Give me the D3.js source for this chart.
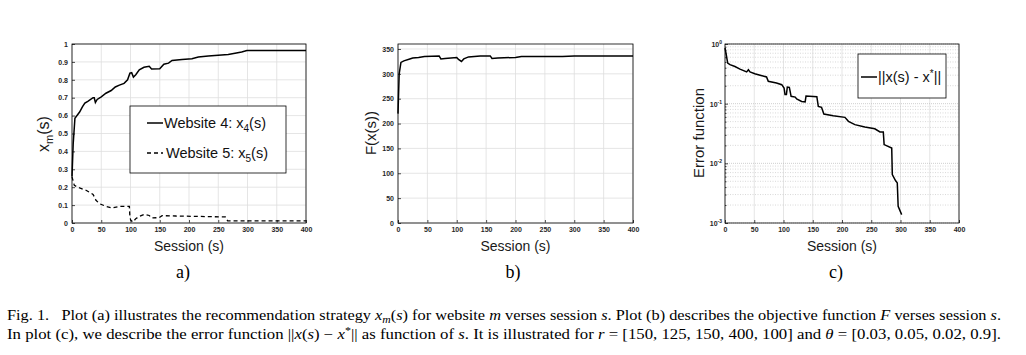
<!DOCTYPE html>
<html>
<head>
<meta charset="utf-8">
<script src="https://cdn.jsdelivr.net/npm/d3@7"></script>
<style>
  body { margin: 0; background: #fff; }
  svg { display: block; }
</style>
</head>
<body>
<svg id="fig" width="1026" height="355"></svg>
<script>
// ---- data ----
const sessionTicks = [0, 50, 100, 150, 200, 250, 300, 350, 400];
const strategyTicks = [0, 0.1, 0.2, 0.3, 0.4, 0.5, 0.6, 0.7, 0.8, 0.9, 1];
const objectiveTicks = [0, 50, 100, 150, 200, 250, 300, 350];
const errorDecades = [1e-3, 1e-2, 1e-1, 1];

// plot (a): website 4, [session, x_4(s)]
const website4 = [[0,0.26],[2,0.44],[5,0.585],[13,0.62],[18,0.65],[22,0.67],[27,0.68],[36,0.70],[38,0.70],
  [40,0.673],[43,0.69],[50,0.705],[58,0.725],[67,0.74],[74,0.76],[81,0.77],[89,0.78],[95,0.80],[99,0.837],
  [102,0.84],[105,0.815],[109,0.828],[115,0.856],[123,0.87],[132,0.875],[136,0.86],[150,0.862],[157,0.887],
  [165,0.893],[171,0.908],[188,0.914],[205,0.918],[216,0.927],[233,0.933],[250,0.937],[267,0.942],[281,0.95],
  [290,0.955],[299,0.963],[400,0.963]];
// plot (a): website 5, [session, x_5(s)]
const website5 = [[0,0.258],[4,0.21],[13,0.196],[24,0.183],[36,0.16],[41,0.127],[47,0.108],[58,0.093],
  [69,0.084],[81,0.093],[98,0.093],[99,0.034],[100.5,0.015],[104.5,0.006],[109,0.024],[115,0.037],
  [123,0.048],[132,0.042],[136,0.028],[149,0.03],[154,0.041],[177,0.039],[211,0.037],[262,0.034],
  [266,0.012],[400,0.012]];
// plot (b): objective F(x(s))
const objective = [[0,220],[2,300],[5,323],[10,326],[20,330],[25,332],[35,333],[45,335],[70,336],[73,330],
  [80,331],[100,333],[103,329],[108,325],[112,330],[120,334],[140,336],[157,336],[160,331],[170,332],
  [200,333],[210,335],[260,335],[280,335],[300,336],[400,336]];
// plot (c): error ||x(s) - x*||
const errorNorm = [[0,0.857],[1.7,0.706],[4.6,0.48],[8.5,0.45],[17,0.42],[25.6,0.38],[37,0.34],[40,0.37],
  [42.7,0.34],[51,0.318],[60,0.30],[71,0.28],[74,0.237],[88,0.222],[97,0.208],[101,0.183],[102.6,0.142],
  [105,0.142],[106.5,0.19],[110,0.188],[113,0.133],[120,0.129],[122.5,0.12],[131,0.109],[137,0.107],
  [138.5,0.134],[157,0.131],[159.5,0.09],[165,0.087],[169,0.067],[185,0.063],[205,0.059],[211,0.0506],
  [222,0.0445],[239,0.0407],[256,0.038],[265,0.0335],[270.6,0.0335],[272,0.0206],[285,0.018],[286,0.00646],
  [291.7,0.0051],[294.5,0.0047],[296,0.0019],[302,0.00138]];

const svg = d3.select("#fig");
svg.append("rect").attr("width", 1026).attr("height", 355).attr("fill", "#fff");

const SANS = "Arial, 'Liberation Sans', Helvetica, sans-serif";
const SERIF = "'Liberation Serif', 'Times New Roman', Times, serif";

// text with sub/superscripts and italics, built from parts
function rich(sel, parts) {
  let shift = 0;
  parts.forEach(p => {
    const target = p.sub ? p.sub : (p.sup ? -p.sup : 0);
    const ts = sel.append("tspan").text(p.t);
    if (target !== shift) ts.attr("dy", target - shift);
    if (p.i) ts.style("font-style", "italic");
    if (p.size) ts.style("font-size", p.size + "px");
    shift = target;
  });
  return sel;
}

function styleTicks(g) {
  g.select(".domain").remove();
  g.selectAll("line").attr("stroke", "#000").attr("stroke-width", 0.7);
  g.selectAll("text")
    .style("font-family", SANS)
    .style("font-size", "7px")
    .style("font-weight", "bold")
    .attr("fill", "#262626");
}

function panel(left, right, y, xTicks) {
  const top = 44, bottom = 223;
  const x = d3.scaleLinear().domain([0, 400]).range([left, right]);
  const g = svg.append("g");
  // vertical grid
  g.append("g").selectAll("line").data(xTicks).enter().append("line")
    .attr("x1", d => x(d)).attr("x2", d => x(d))
    .attr("y1", top).attr("y2", bottom)
    .attr("stroke", "#dedede").attr("stroke-width", 0.8);
  const ax = g.append("g")
    .attr("transform", `translate(0,${bottom})`)
    .call(d3.axisBottom(x).tickValues(xTicks).tickSizeInner(-3).tickSizeOuter(0).tickPadding(4));
  styleTicks(ax);
  return { g, x, top, bottom, left, right };
}

function frame(p) {
  p.g.append("rect")
    .attr("x", p.left).attr("y", p.top)
    .attr("width", p.right - p.left).attr("height", p.bottom - p.top)
    .attr("fill", "none").attr("stroke", "#000").attr("stroke-width", 0.8);
}

function sessionLabel(p, sub, subX) {
  svg.append("text")
    .attr("x", (p.left + p.right) / 2).attr("y", 251)
    .attr("text-anchor", "middle")
    .style("font-family", SANS).style("font-size", "14px").attr("fill", "#1a1a1a")
    .text("Session (s)");
  svg.append("text")
    .attr("x", subX).attr("y", 278)
    .attr("text-anchor", "middle")
    .style("font-family", SERIF).style("font-size", "18px")
    .text(sub);
}

// ============ (a) recommendation strategy ============
const yA = d3.scaleLinear().domain([0, 1]).range([223, 44]);
const pA = panel(72, 306, yA, sessionTicks);
pA.g.append("g").selectAll("line").data(strategyTicks).enter().append("line")
  .attr("x1", pA.left).attr("x2", pA.right)
  .attr("y1", d => yA(d)).attr("y2", d => yA(d))
  .attr("stroke", "#dedede").attr("stroke-width", 0.8);
const ayA = pA.g.append("g")
  .attr("transform", `translate(${pA.left},0)`)
  .call(d3.axisLeft(yA).tickValues(strategyTicks).tickFormat(d => String(d))
    .tickSizeInner(-3).tickSizeOuter(0).tickPadding(4));
styleTicks(ayA);

const lineA = d3.line().x(d => pA.x(d[0])).y(d => yA(d[1]));
pA.g.append("path").datum(website4).attr("d", lineA)
  .attr("fill", "none").attr("stroke", "#000").attr("stroke-width", 1.5);
pA.g.append("path").datum(website5).attr("d", lineA)
  .attr("fill", "none").attr("stroke", "#000").attr("stroke-width", 1.3)
  .attr("stroke-dasharray", "4,3");
frame(pA);

// legend (a)
const legA = svg.append("g");
legA.append("rect").attr("x", 130).attr("y", 106).attr("width", 156).attr("height", 67)
  .attr("fill", "#fff").attr("stroke", "#000").attr("stroke-width", 0.8);
legA.append("line").attr("x1", 147).attr("x2", 163).attr("y1", 123).attr("y2", 123)
  .attr("stroke", "#000").attr("stroke-width", 1.5);
legA.append("line").attr("x1", 147).attr("x2", 163).attr("y1", 153).attr("y2", 153)
  .attr("stroke", "#000").attr("stroke-width", 1.3).attr("stroke-dasharray", "4,3");
rich(legA.append("text").attr("x", 164).attr("y", 128)
  .style("font-family", SANS).style("font-size", "14.5px").attr("fill", "#111"),
  [{ t: "Website 4: x" }, { t: "4", sub: 4, size: 10 }, { t: "(s)" }]);
rich(legA.append("text").attr("x", 166).attr("y", 158)
  .style("font-family", SANS).style("font-size", "14.5px").attr("fill", "#111"),
  [{ t: "Website 5: x" }, { t: "5", sub: 4, size: 10 }, { t: "(s)" }]);

rich(svg.append("text").attr("transform", "translate(49,134) rotate(-90)")
  .attr("text-anchor", "middle")
  .style("font-family", SANS).style("font-size", "16px").attr("fill", "#1a1a1a"),
  [{ t: "x" }, { t: "m", sub: 4, size: 11 }, { t: "(s)", sup: 0 }]);
sessionLabel(pA, "a)", 183);

// ============ (b) objective function ============
const yB = d3.scaleLinear().domain([0, 360]).range([223, 44]);
const pB = panel(398, 633, yB, sessionTicks);
pB.g.append("g").selectAll("line").data(objectiveTicks).enter().append("line")
  .attr("x1", pB.left).attr("x2", pB.right)
  .attr("y1", d => yB(d)).attr("y2", d => yB(d))
  .attr("stroke", "#dedede").attr("stroke-width", 0.8);
const ayB = pB.g.append("g")
  .attr("transform", `translate(${pB.left},0)`)
  .call(d3.axisLeft(yB).tickValues(objectiveTicks)
    .tickSizeInner(-3).tickSizeOuter(0).tickPadding(4));
styleTicks(ayB);
pB.g.append("path").datum(objective)
  .attr("d", d3.line().x(d => pB.x(d[0])).y(d => yB(d[1])))
  .attr("fill", "none").attr("stroke", "#000").attr("stroke-width", 1.5);
frame(pB);

svg.append("text").attr("transform", "translate(376,133) rotate(-90)")
  .attr("text-anchor", "middle")
  .style("font-family", SANS).style("font-size", "15px").attr("fill", "#1a1a1a")
  .text("F(x(s))");
sessionLabel(pB, "b)", 513);

// ============ (c) error function ============
const yC = d3.scaleLog().domain([1e-3, 1]).range([223, 44]);
const pC = panel(725, 959, yC, sessionTicks);
const minorC = yC.ticks().filter(v => errorDecades.indexOf(v) < 0);
pC.g.append("g").selectAll("line").data(minorC).enter().append("line")
  .attr("x1", pC.left).attr("x2", pC.right)
  .attr("y1", d => yC(d)).attr("y2", d => yC(d))
  .attr("stroke", "#c8c8c8").attr("stroke-width", 0.7).attr("stroke-dasharray", "1,1.5");
pC.g.append("g").selectAll("line").data(errorDecades).enter().append("line")
  .attr("x1", pC.left).attr("x2", pC.right)
  .attr("y1", d => yC(d)).attr("y2", d => yC(d))
  .attr("stroke", "#bbb").attr("stroke-width", 0.7).attr("stroke-dasharray", "1,1");
const ayC = pC.g.append("g")
  .attr("transform", `translate(${pC.left},0)`)
  .call(d3.axisLeft(yC).tickValues(errorDecades).tickFormat("")
    .tickSizeInner(-3).tickSizeOuter(0));
styleTicks(ayC);
const ayCm = pC.g.append("g")
  .attr("transform", `translate(${pC.left},0)`)
  .call(d3.axisLeft(yC).tickValues(minorC).tickFormat("")
    .tickSizeInner(-1.5).tickSizeOuter(0));
styleTicks(ayCm);
errorDecades.forEach(v => {
  rich(pC.g.append("text").attr("x", pC.left - 3).attr("y", yC(v) + 3)
    .attr("text-anchor", "end")
    .style("font-family", SANS).style("font-size", "7px").style("font-weight", "bold")
    .attr("fill", "#262626"),
    [{ t: "10" }, { t: String(Math.round(Math.log10(v))), sup: 3, size: 5 }]);
});
pC.g.append("path").datum(errorNorm)
  .attr("d", d3.line().x(d => pC.x(d[0])).y(d => yC(d[1])))
  .attr("fill", "none").attr("stroke", "#000").attr("stroke-width", 1.5);
frame(pC);

// legend (c)
const legC = svg.append("g");
legC.append("rect").attr("x", 858).attr("y", 54).attr("width", 88).attr("height", 44)
  .attr("fill", "#fff").attr("stroke", "#000").attr("stroke-width", 0.8);
legC.append("line").attr("x1", 861).attr("x2", 877).attr("y1", 77).attr("y2", 77)
  .attr("stroke", "#000").attr("stroke-width", 1.5);
rich(legC.append("text").attr("x", 878).attr("y", 82)
  .style("font-family", SANS).style("font-size", "14.5px").attr("fill", "#111"),
  [{ t: "||x(s) - x" }, { t: "*", sup: 5, size: 10 }, { t: "||" }]);

svg.append("text").attr("transform", "translate(704,133) rotate(-90)")
  .attr("text-anchor", "middle")
  .style("font-family", SANS).style("font-size", "15px").attr("fill", "#1a1a1a")
  .text("Error function");
sessionLabel(pC, "c)", 836);

// ============ caption ============
const cap1 = svg.append("text").attr("x", 7).attr("y", 320)
  .style("font-family", SERIF).style("font-size", "14px").attr("fill", "#000")
  .attr("textLength", 994).attr("lengthAdjust", "spacingAndGlyphs");
rich(cap1, [
  { t: "Fig. 1.\u00a0\u00a0 Plot (a) illustrates the recommendation strategy " },
  { t: "x", i: true }, { t: "m", i: true, sub: 3, size: 10 }, { t: "(" },
  { t: "s", i: true }, { t: ") for website " }, { t: "m", i: true },
  { t: " verses session " }, { t: "s", i: true },
  { t: ". Plot (b) describes the objective function " }, { t: "F", i: true },
  { t: " verses session " }, { t: "s", i: true }, { t: "." }
]);
const cap2 = svg.append("text").attr("x", 7).attr("y", 339)
  .style("font-family", SERIF).style("font-size", "14px").attr("fill", "#000")
  .attr("textLength", 994).attr("lengthAdjust", "spacingAndGlyphs");
rich(cap2, [
  { t: "In plot (c), we describe the error function ||" }, { t: "x", i: true },
  { t: "(" }, { t: "s", i: true }, { t: ") \u2212 " }, { t: "x", i: true },
  { t: "*", sup: 5, size: 10 }, { t: "|| as function of " }, { t: "s", i: true },
  { t: ". It is illustrated for " }, { t: "r", i: true },
  { t: " = [150, 125, 150, 400, 100] and " }, { t: "\u03b8", i: true },
  { t: " = [0.03, 0.05, 0.02, 0.9]." }
]);
</script>
</body>
</html>
